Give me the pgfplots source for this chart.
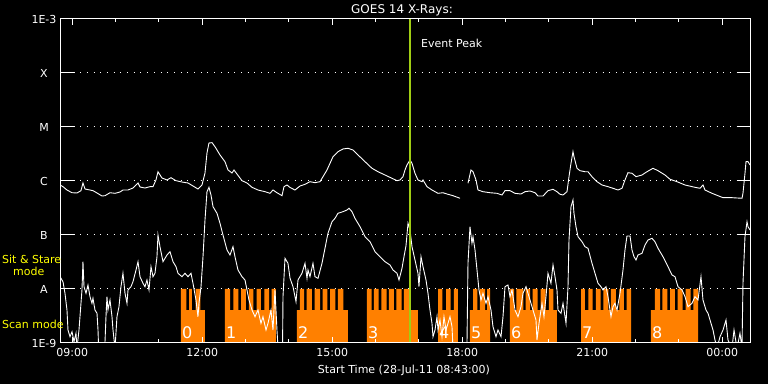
\documentclass[border=0pt]{standalone}
\usepackage{fontspec}
\setmainfont{DejaVu Sans}
\usepackage{pgfplots}
\pgfplotsset{compat=1.18}
\definecolor{scanorange}{RGB}{255,128,0}
\definecolor{peakgreen}{RGB}{160,205,20}
\definecolor{labelyellow}{RGB}{255,255,0}
\newcommand{\lab}{\fontsize{11bp}{13bp}\selectfont}
\newcommand{\titlefont}{\fontsize{12bp}{14bp}\selectfont}
\newcommand{\digitfont}{\fontsize{16bp}{18bp}\selectfont}

\begin{document}
\begin{tikzpicture}
\path[use as bounding box] (0,0) rectangle (768bp,384bp);
\fill[black] (0,0) rectangle (768bp,384bp);
\begin{axis}[
  at={(60bp,41bp)}, anchor=south west,
  scale only axis, width=690bp, height=324bp,
  xmin=8.717, xmax=24.640, ymin=-9, ymax=-3,
  axis on top,
  axis line style={white, line width=1bp},
  xtick={9,12,15,18,21,24},
  xticklabels={09:00,12:00,15:00,18:00,21:00,00:00},
  minor xtick={10,11,13,14,16,17,19,20,22,23},
  major tick length=6bp, minor tick length=3.5bp,
  tick style={white, line width=1bp},
  ytick={-9,-8,-7,-6,-5,-4,-3},
  yticklabels={1E-9,A,B,C,M,X,1E-3},
  ytick style={draw=none},
  ymajorgrids,
  grid style={white, line width=1bp, dash pattern=on 1bp off 5.7bp},
  tick label style={white, font=\lab},
  yticklabel style={anchor=center, xshift=-16bp},
  xticklabel style={yshift=-2bp},
  unbounded coords=jump,
]
% scan-mode blocks
\addplot[fill=scanorange, draw=none, const plot, mark=none] coordinates {
(11.509,-9.2) (11.509,-8) (11.636,-8.389) (11.694,-8) (11.763,-8.389) (11.844,-8) (11.959,-8.389) (12.063,-9.2)
(12.524,-9.2) (12.524,-8) (12.640,-8.389) (12.716,-8) (12.831,-8.389) (12.894,-8) (13.009,-8.389) (13.078,-8) (13.178,-8.389) (13.256,-8) (13.355,-8.389) (13.431,-8) (13.540,-8.389) (13.602,-8) (13.701,-9.2)
(14.186,-9.2) (14.186,-8.389) (14.255,-8) (14.348,-8.389) (14.410,-8) (14.532,-8.389) (14.594,-8) (14.717,-8.389) (14.779,-8) (14.885,-8.389) (14.948,-8) (15.070,-8.389) (15.132,-8) (15.254,-8.389) (15.363,-9.2)
(15.801,-9.2) (15.801,-8) (15.910,-8.389) (15.963,-8) (16.071,-8.389) (16.131,-8) (16.256,-8.389) (16.309,-8) (16.424,-8.389) (16.478,-8) (16.602,-8.389) (16.655,-8) (16.771,-8.389) (16.978,-9.2)
(17.440,-9.2) (17.440,-8) (17.539,-8.389) (17.625,-8) (17.733,-8.389) (17.809,-8) (17.901,-9.2)
(18.178,-9.2) (18.178,-8.389) (18.248,-8) (18.351,-8.389) (18.409,-8) (18.525,-8.389) (18.571,-8) (18.640,-9.2)
(19.101,-9.2) (19.101,-8) (19.194,-8.389) (19.251,-8) (19.408,-8.389) (19.464,-8) (19.563,-8.389) (19.625,-8) (19.741,-8.389) (19.810,-8) (19.925,-8.389) (20.001,-8) (20.101,-8.389) (20.186,-9.2)
(20.740,-9.2) (20.740,-8) (20.832,-8.389) (20.908,-8) (21.010,-8.389) (21.086,-8) (21.194,-8.389) (21.254,-8) (21.370,-8.389) (21.432,-8) (21.547,-8.389) (21.624,-8) (21.732,-8.389) (21.794,-8) (21.894,-9.2)
(22.355,-9.2) (22.355,-8.389) (22.447,-8) (22.563,-8.389) (22.616,-8) (22.731,-8.389) (22.794,-8) (22.909,-8.389) (22.971,-8) (23.087,-8.389) (23.156,-8) (23.271,-8.389) (23.331,-8) (23.440,-9.2)
};
% block numbers
\node[white, anchor=west, inner sep=0, font=\digitfont, xshift=1bp] at (axis cs:11.509,-8.815) {0};
\node[white, anchor=west, inner sep=0, font=\digitfont, xshift=1bp] at (axis cs:12.524,-8.815) {1};
\node[white, anchor=west, inner sep=0, font=\digitfont, xshift=1bp] at (axis cs:14.186,-8.815) {2};
\node[white, anchor=west, inner sep=0, font=\digitfont, xshift=1bp] at (axis cs:15.801,-8.815) {3};
\node[white, anchor=west, inner sep=0, font=\digitfont, xshift=1bp] at (axis cs:17.440,-8.815) {4};
\node[white, anchor=west, inner sep=0, font=\digitfont, xshift=1bp] at (axis cs:18.178,-8.815) {5};
\node[white, anchor=west, inner sep=0, font=\digitfont, xshift=1bp] at (axis cs:19.101,-8.815) {6};
\node[white, anchor=west, inner sep=0, font=\digitfont, xshift=1bp] at (axis cs:20.740,-8.815) {7};
\node[white, anchor=west, inner sep=0, font=\digitfont, xshift=1bp] at (axis cs:22.355,-8.815) {8};
% long channel (1-8 A)
\addplot[white, line width=0.9bp, mark=none] coordinates {
(8.717,-6.074) (8.786,-6.105) (8.878,-6.167) (8.994,-6.217) (9.109,-6.222) (9.201,-6.179) (9.247,-6.037) (9.294,-6.148) (9.409,-6.167) (9.478,-6.179) (9.571,-6.222) (9.686,-6.278) (9.755,-6.272) (9.871,-6.217) (9.986,-6.228) (10.101,-6.204) (10.170,-6.167) (10.286,-6.167) (10.401,-6.130) (10.517,-6.037) (10.563,-6.111) (10.678,-6.130) (10.794,-6.105) (10.863,-6.105) (10.932,-5.981) (10.978,-5.828) (11.070,-5.944) (11.186,-5.981) (11.278,-5.939) (11.394,-5.994)
(11.532,-6.019) (11.671,-6.037) (11.786,-6.093) (11.901,-6.148) (11.994,-6.074) (12.063,-5.852) (12.109,-5.481) (12.155,-5.296) (12.225,-5.290) (12.294,-5.365) (12.409,-5.518) (12.524,-5.642) (12.594,-5.796) (12.686,-5.852) (12.732,-5.796) (12.801,-5.870) (12.917,-5.994) (13.032,-6.037) (13.148,-6.117) (13.286,-6.167) (13.448,-6.198) (13.563,-6.228) (13.632,-6.167) (13.724,-6.217) (13.840,-6.272) (13.886,-6.105) (13.955,-6.074) (14.025,-6.120)
(14.140,-6.167) (14.255,-6.093) (14.371,-6.061) (14.486,-6.013) (14.601,-6.031) (14.717,-6.013) (14.786,-5.920) (14.878,-5.796) (14.948,-5.672) (15.017,-5.550) (15.132,-5.457) (15.248,-5.407) (15.363,-5.394) (15.478,-5.426) (15.594,-5.518) (15.755,-5.642) (15.917,-5.765) (16.055,-5.828) (16.217,-5.889) (16.378,-5.950) (16.494,-5.994) (16.563,-5.981) (16.632,-5.920) (16.678,-5.796) (16.724,-5.704) (16.794,-5.611) (16.840,-5.672) (16.909,-5.857) (16.978,-5.981) (17.071,-6.013) (17.094,-5.981) (17.186,-6.105) (17.301,-6.167) (17.440,-6.228) (17.555,-6.217) (17.648,-6.241) (17.786,-6.272) (17.948,-6.320)
(18.040,nan)
(18.132,-6.042) (18.201,-5.796) (18.248,-5.828) (18.317,-5.981) (18.363,-6.167) (18.478,-6.198) (18.640,-6.217) (18.801,-6.228) (18.917,-6.259) (18.986,-6.179) (19.101,-6.179) (19.217,-6.228) (19.355,-6.241)
(19.448,-6.198) (19.563,-6.185) (19.678,-6.217) (19.748,-6.278) (19.863,-6.278) (19.978,-6.179) (20.094,-6.154) (20.186,-6.198) (20.255,-6.246) (20.325,-6.259) (20.417,-6.198) (20.463,-5.920) (20.509,-5.672) (20.555,-5.457) (20.578,-5.550) (20.648,-5.765) (20.717,-5.809) (20.832,-5.828) (20.901,-5.828) (20.994,-5.920) (21.109,-6.013) (21.224,-6.074) (21.363,-6.105) (21.478,-6.135) (21.594,-6.167) (21.686,-6.135) (21.755,-5.981) (21.824,-5.846) (21.917,-5.857) (22.009,-5.920)
(22.148,-5.889) (22.263,-5.828) (22.401,-5.765) (22.517,-5.809) (22.678,-5.889) (22.794,-5.968) (22.955,-6.013) (23.140,-6.074) (23.371,-6.117) (23.486,-6.135) (23.555,-6.074) (23.601,-6.167) (23.763,-6.228) (23.901,-6.272) (24.017,-6.309) (24.224,-6.309) (24.455,-6.320) (24.478,-6.228) (24.524,-5.857) (24.548,-5.642) (24.594,-5.642) (24.640,-5.704)
};
% short channel (0.5-4 A)
\addplot[white, line width=0.9bp, mark=none] coordinates {
(8.717,-7.772) (8.786,-7.865) (8.832,-8.079) (8.878,-8.389) (8.901,-8.759) (8.948,-8.883) (8.994,-8.791) (9.040,-8.976) (9.086,-8.820) (9.109,-9.1) (9.155,-8.759) (9.178,-8.513) (9.224,-8.018) (9.247,-7.494) (9.271,-7.957) (9.317,-8.079) (9.363,-7.926) (9.409,-8.142) (9.455,-8.265) (9.478,-8.172) (9.524,-8.389) (9.571,-8.450) (9.594,-8.759) (9.617,-9.3) (9.740,-9.3)
(9.778,-8.513) (9.801,-8.142) (9.824,-8.389) (9.871,-8.204) (9.917,-8.513) (9.940,-8.759) (9.986,-9.1) (10.032,-8.513) (10.078,-8.328) (10.124,-7.957) (10.170,-7.709) (10.217,-8.079) (10.263,-8.265) (10.286,-8.018) (10.355,-7.957) (10.401,-7.865) (10.471,-7.648) (10.517,-7.494) (10.563,-7.772) (10.632,-7.894) (10.678,-7.957) (10.724,-7.833) (10.771,-8.018) (10.817,-7.587) (10.863,-7.772) (10.909,-7.709) (10.955,-7.402) (10.978,-7.000) (11.024,-7.217) (11.094,-7.494) (11.186,-7.370) (11.255,-7.309) (11.325,-7.494) (11.394,-7.587)
(11.440,-7.709) (11.532,-7.772) (11.601,-7.709) (11.671,-7.772) (11.740,-7.709) (11.786,-7.894) (11.855,-8.204) (11.901,-8.513) (11.924,-8.265) (11.971,-7.957) (12.017,-7.402) (12.063,-6.722) (12.109,-6.198) (12.155,-6.117) (12.201,-6.259) (12.248,-6.476) (12.340,-6.598) (12.409,-6.783) (12.478,-7.000) (12.571,-7.278) (12.640,-7.370) (12.709,-7.217) (12.755,-7.402) (12.824,-7.648) (12.917,-7.772) (12.986,-7.833) (13.032,-8.018) (13.078,-8.204) (13.148,-8.389) (13.217,-8.513) (13.286,-8.389) (13.355,-8.635) (13.401,-8.513) (13.471,-8.759) (13.517,-8.635) (13.586,-8.389) (13.632,-8.759) (13.678,-8.018) (13.724,-8.759) (13.748,-9.1) (13.817,-9.3) (13.850,-9.3) (13.863,-8.142) (13.909,-7.431) (13.978,-7.524) (14.025,-7.800)
(14.094,-7.957) (14.163,-8.235) (14.209,-7.833) (14.301,-7.709) (14.371,-7.524) (14.417,-7.802) (14.440,-7.648) (14.486,-7.772) (14.555,-7.524) (14.601,-7.772) (14.671,-7.802) (14.763,-7.524) (14.832,-7.246) (14.901,-6.968) (14.994,-6.754) (15.063,-6.691) (15.132,-6.598) (15.248,-6.568) (15.340,-6.537) (15.386,-6.505) (15.455,-6.568) (15.524,-6.691) (15.640,-6.846) (15.755,-7.031) (15.871,-7.124) (15.986,-7.309) (16.101,-7.402) (16.217,-7.494) (16.332,-7.555) (16.401,-7.648) (16.494,-7.709) (16.540,-7.833) (16.609,-7.617) (16.655,-7.402) (16.701,-7.200) (16.748,-6.783) (16.794,-6.907) (16.840,-7.217) (16.909,-7.463) (16.978,-7.709) (17.001,-7.957) (17.048,-7.402) (17.094,-7.587) (17.163,-7.833) (17.209,-8.079) (17.255,-8.389) (17.301,-8.635) (17.325,-8.883) (17.371,-8.759) (17.417,-8.513) (17.440,-8.759) (17.486,-8.574) (17.532,-8.883) (17.578,-8.513) (17.625,-8.759) (17.671,-8.635) (17.717,-8.513) (17.763,-8.698) (17.786,-9.1) (17.901,-9.3) (18.090,-9.3)
(18.109,-9.0) (18.132,-7.524) (18.178,-6.846) (18.224,-7.154) (18.248,-7.031) (18.294,-7.278) (18.340,-7.648) (18.386,-8.018) (18.432,-8.204) (18.478,-8.079) (18.548,-8.265) (18.594,-8.142) (18.663,-8.389) (18.709,-8.698) (18.778,-8.883) (18.824,-8.759) (18.894,-8.883) (18.940,-8.513) (18.986,-7.957) (19.055,-7.926) (19.101,-8.142) (19.148,-8.018) (19.217,-8.389) (19.286,-8.513) (19.355,-8.328)
(19.401,-8.079) (19.471,-7.957) (19.517,-8.079) (19.586,-8.265) (19.632,-8.389) (19.701,-8.574) (19.724,-8.944) (19.771,-8.635) (19.840,-8.265) (19.886,-8.513) (19.932,-8.142) (19.978,-7.709) (20.047,-7.894) (20.094,-7.555) (20.140,-7.772) (20.186,-8.018) (20.209,-8.389) (20.278,-8.450) (20.325,-8.265) (20.394,-8.635) (20.440,-7.957) (20.463,-7.093) (20.509,-6.476) (20.555,-6.352) (20.578,-6.598) (20.624,-6.846) (20.671,-7.031) (20.763,-7.124) (20.832,-7.217) (20.901,-7.246) (20.994,-7.524) (21.063,-7.709) (21.132,-7.894) (21.201,-7.957) (21.247,-8.018) (21.317,-7.957) (21.363,-8.142) (21.432,-8.513) (21.478,-8.328) (21.524,-8.265) (21.571,-8.389) (21.640,-8.079) (21.709,-7.648) (21.755,-7.278) (21.801,-7.018) (21.871,-7.018) (21.917,-7.278) (21.963,-7.402) (22.009,-7.463)
(22.055,-7.370) (22.148,-7.339) (22.217,-7.185) (22.286,-7.093) (22.378,-7.061) (22.447,-7.124) (22.517,-7.246) (22.632,-7.402) (22.748,-7.587) (22.840,-7.741) (22.909,-7.772) (22.978,-7.957) (23.071,-8.018) (23.140,-8.142) (23.209,-8.328) (23.301,-8.265) (23.371,-8.142) (23.440,-8.204) (23.509,-7.772) (23.555,-8.204) (23.624,-8.389) (23.671,-8.450) (23.740,-8.635) (23.786,-8.759) (23.832,-8.944) (23.878,-9.1) (23.948,-8.883) (24.017,-8.759) (24.086,-8.574) (24.132,-8.944) (24.224,-9.1) (24.271,-8.759) (24.340,-9.1) (24.409,-8.820) (24.455,-9.1) (24.478,-7.894) (24.524,-7.031) (24.571,-6.754) (24.594,-6.846) (24.640,-6.907)
};
% event peak
\addplot[peakgreen, line width=2bp, mark=none] coordinates {(16.794,-9) (16.794,-3)};
% manual y ticks (left 15 px, right 13 px)
\draw[white, line width=1bp] (axis cs:8.717,-8) -- (axis cs:9.063,-8);
\draw[white, line width=1bp] (axis cs:8.717,-7) -- (axis cs:9.063,-7);
\draw[white, line width=1bp] (axis cs:8.717,-6) -- (axis cs:9.063,-6);
\draw[white, line width=1bp] (axis cs:8.717,-5) -- (axis cs:9.063,-5);
\draw[white, line width=1bp] (axis cs:8.717,-4) -- (axis cs:9.063,-4);
\draw[white, line width=1bp] (axis cs:24.340,-8) -- (axis cs:24.640,-8);
\draw[white, line width=1bp] (axis cs:24.340,-7) -- (axis cs:24.640,-7);
\draw[white, line width=1bp] (axis cs:24.340,-6) -- (axis cs:24.640,-6);
\draw[white, line width=1bp] (axis cs:24.340,-5) -- (axis cs:24.640,-5);
\draw[white, line width=1bp] (axis cs:24.340,-4) -- (axis cs:24.640,-4);
\end{axis}
\node[white, font=\titlefont] at (402bp,374bp) {GOES 14 X-Rays:};
\node[white, font=\lab] at (404bp,14bp) {Start Time (28-Jul-11 08:43:00)};
\node[white, font=\lab, anchor=west, inner sep=0] at (421bp,341bp) {Event Peak};
\node[labelyellow, font=\lab, anchor=west, inner sep=0] at (2bp,125bp) {Sit \& Stare};
\node[labelyellow, font=\lab, anchor=west, inner sep=0] at (13bp,113bp) {mode};
\node[labelyellow, font=\lab, anchor=west, inner sep=0] at (2bp,60bp) {Scan mode};
\end{tikzpicture}
\end{document}
